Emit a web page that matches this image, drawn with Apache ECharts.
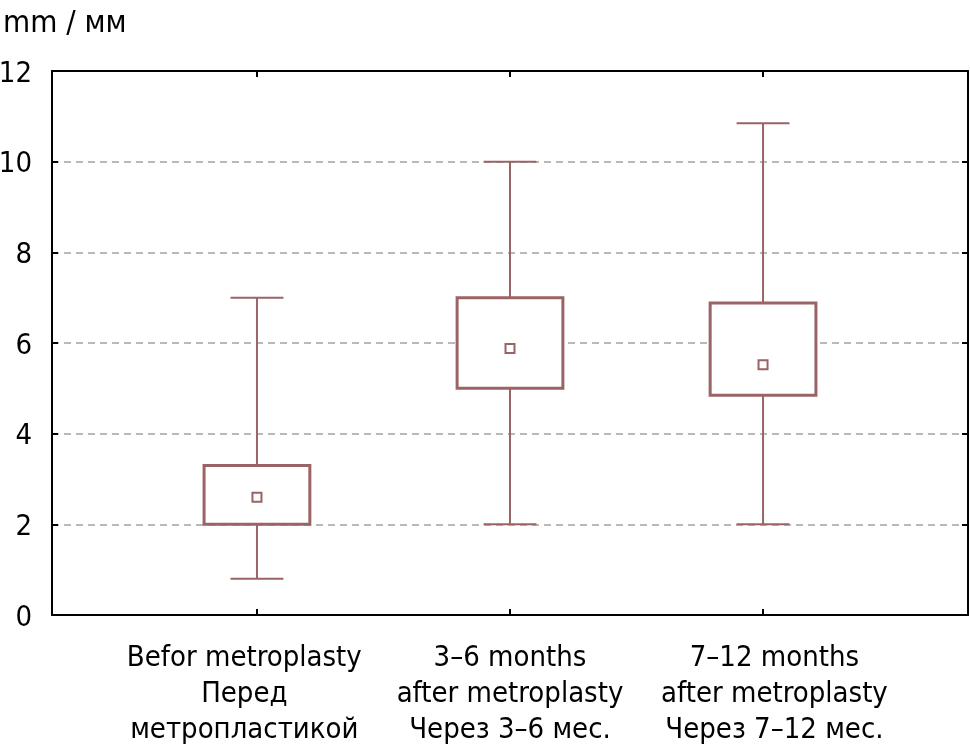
<!DOCTYPE html>
<html>
<head>
<meta charset="utf-8">
<script src="https://cdn.jsdelivr.net/npm/echarts@6/dist/echarts.min.js"></script>
<style>
html,body{margin:0;padding:0;background:#fff;}
#chart{width:970px;height:756px;}
</style>
</head>
<body>
<div id="chart"></div>
<script>
const categories = [
  'Befor metroplasty\nПеред\nметропластикой',
  '3–6 months\nafter metroplasty\nЧерез 3–6 мес.',
  '7–12 months\nafter metroplasty\nЧерез 7–12 мес.'
];
const whiskerLow = [0.8, 2.0, 2.0];
const boxLow = [2.0, 5.0, 4.85];
const boxHigh = [3.3, 7.0, 6.88];
const whiskerHigh = [7.0, 10.0, 10.85];
const centerPoint = [2.6, 5.88, 5.52];
const yMin = 0, yMax = 12, yStep = 2;
const unitLabel = 'mm / мм';

const FONT = '"Liberation Sans Narrow", "DejaVu Sans Condensed", sans-serif';
const BOX_COLOR = '#9a6366';
const positions = categories.map((c, i) => i + 1);
// labels in the reference sit slightly spread out from the tick positions
const labelPositions = [0.95, 2.0, 3.045];
const data = positions.map((p, i) => [p, whiskerLow[i], boxLow[i], boxHigh[i], whiskerHigh[i], centerPoint[i]]);

const chart = echarts.init(document.getElementById('chart'), null, {renderer: 'canvas'});

const axisLine = {show: true, onZero: false, lineStyle: {color: '#000', width: 2}};
const option = {
  animation: false,
  backgroundColor: '#fff',
  title: {
    text: unitLabel, left: -2, top: 3,
    textStyle: {fontFamily: FONT, fontSize: 31, fontWeight: 'normal', color: '#000'}
  },
  grid: {left: 52, right: 2, top: 71, bottom: 141, containLabel: false, outerBoundsMode: 'none'},
  xAxis: [{
    type: 'value', position: 'bottom', min: 0.19, max: 3.81,
    axisLine: axisLine,
    splitLine: {show: false},
    axisTick: {show: true, inside: true, length: 6, customValues: positions, lineStyle: {color: '#000', width: 2}},
    axisLabel: {
      show: true, customValues: labelPositions, margin: 25,
      formatter: v => categories[Math.round(v) - 1] || '',
      fontFamily: FONT, fontSize: 29, color: '#000', lineHeight: 36, align: 'center'
    }
  }, {
    type: 'value', position: 'top', min: 0.19, max: 3.81,
    axisLine: axisLine,
    splitLine: {show: false},
    axisTick: {show: true, inside: true, length: 6, customValues: positions, lineStyle: {color: '#000', width: 2}},
    axisLabel: {show: false}
  }],
  yAxis: [{
    type: 'value', position: 'left', min: yMin, max: yMax, interval: yStep,
    axisLine: axisLine,
    axisTick: {show: true, inside: true, length: 6, lineStyle: {color: '#000', width: 2}},
    axisLabel: {
      margin: 20,
      formatter: v => '{a|' + v + '}',
      rich: {a: {fontFamily: FONT, fontSize: 29, color: '#000', padding: [6, 0, 0, 0]}}
    },
    splitLine: {show: true, lineStyle: {color: '#a3a3a3', width: 1.5, type: [7, 5]}}
  }, {
    type: 'value', position: 'right', min: yMin, max: yMax, interval: yStep,
    axisLine: axisLine,
    axisTick: {show: true, inside: true, length: 6, lineStyle: {color: '#000', width: 2}},
    axisLabel: {show: false},
    splitLine: {show: false}
  }],
  series: [{
    type: 'custom',
    xAxisIndex: 0, yAxisIndex: 0,
    data: data,
    renderItem: function (params, api) {
      const x = api.value(0);
      const pLow = api.coord([x, api.value(1)]);
      const pQ1 = api.coord([x, api.value(2)]);
      const pQ3 = api.coord([x, api.value(3)]);
      const pHigh = api.coord([x, api.value(4)]);
      const pMid = api.coord([x, api.value(5)]);
      const boxW = api.size([0.418, 0])[0];
      const capW = boxW / 2;
      const cx = pQ1[0];
      const lineStyle = {stroke: BOX_COLOR, lineWidth: 2, fill: null};
      return {
        type: 'group',
        children: [
          {type: 'line', shape: {x1: cx, y1: pHigh[1], x2: cx, y2: pQ3[1]}, style: lineStyle},
          {type: 'line', shape: {x1: cx, y1: pQ1[1], x2: cx, y2: pLow[1]}, style: lineStyle},
          {type: 'line', shape: {x1: cx - capW / 2, y1: pHigh[1], x2: cx + capW / 2, y2: pHigh[1]}, style: lineStyle},
          {type: 'line', shape: {x1: cx - capW / 2, y1: pLow[1], x2: cx + capW / 2, y2: pLow[1]}, style: lineStyle},
          {type: 'rect', shape: {x: cx - boxW / 2, y: pQ3[1], width: boxW, height: pQ1[1] - pQ3[1]},
            style: {stroke: BOX_COLOR, lineWidth: 3, fill: '#fff'}},
          {type: 'rect', shape: {x: cx - 4.5, y: pMid[1] - 4.5, width: 9, height: 9},
            style: {stroke: BOX_COLOR, lineWidth: 2, fill: '#fff'}}
        ]
      };
    }
  }]
};
chart.setOption(option);
</script>
</body>
</html>
